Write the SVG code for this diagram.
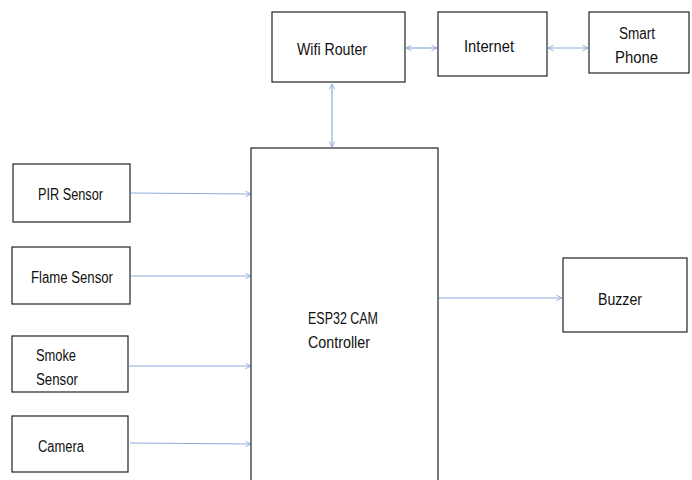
<svg xmlns="http://www.w3.org/2000/svg" width="692" height="480" viewBox="0 0 692 480">
<style>
.box{fill:#fff;stroke:#222;stroke-width:1.2}
.t{font-family:"Liberation Sans",Arial,sans-serif;font-size:16px;fill:#111}
.c{stroke:#8eaadb;stroke-width:1.2;fill:none}
</style>
<defs>
<marker id="ah" viewBox="0 0 10 10" refX="9" refY="5" markerWidth="7" markerHeight="7" orient="auto-start-reverse" markerUnits="userSpaceOnUse">
<path d="M1,1 L9,5 L1,9" fill="none" stroke="#8eaadb" stroke-width="1.3"/>
</marker>
</defs>
<rect width="692" height="480" fill="#fff"/>
<g id="connectors">
<line class="c" x1="406" y1="48" x2="437" y2="48" marker-start="url(#ah)" marker-end="url(#ah)"/>
<line class="c" x1="548" y1="48" x2="588" y2="48" marker-start="url(#ah)" marker-end="url(#ah)"/>
<line class="c" x1="332" y1="84" x2="332" y2="147" marker-start="url(#ah)" marker-end="url(#ah)"/>
<line class="c" x1="131" y1="193" x2="251" y2="194" marker-end="url(#ah)"/>
<line class="c" x1="131" y1="276" x2="251" y2="276" marker-end="url(#ah)"/>
<line class="c" x1="129" y1="366" x2="251" y2="366" marker-end="url(#ah)"/>
<line class="c" x1="130" y1="443" x2="251" y2="444" marker-end="url(#ah)"/>
<line class="c" x1="438" y1="298" x2="562" y2="298" marker-end="url(#ah)"/>
</g>
<g id="wifi"><rect class="box" x="272" y="12" width="133" height="70"/><text class="t" x="297" y="55" textLength="70" lengthAdjust="spacingAndGlyphs">Wifi Router</text></g>
<g id="internet"><rect class="box" x="438" y="12" width="109" height="64"/><text class="t" x="464" y="52" textLength="50" lengthAdjust="spacingAndGlyphs">Internet</text></g>
<g id="phone"><rect class="box" x="589" y="12" width="100" height="61"/><text class="t" x="619" y="39" textLength="36" lengthAdjust="spacingAndGlyphs">Smart</text><text class="t" x="615" y="63" textLength="43" lengthAdjust="spacingAndGlyphs">Phone</text></g>
<g id="esp"><rect class="box" x="251" y="148" width="187" height="340"/><text class="t" x="308" y="324" textLength="70" lengthAdjust="spacingAndGlyphs">ESP32 CAM</text><text class="t" x="308" y="348" textLength="62" lengthAdjust="spacingAndGlyphs">Controller</text></g>
<g id="pir"><rect class="box" x="13" y="164" width="117" height="58"/><text class="t" x="38" y="200" textLength="65" lengthAdjust="spacingAndGlyphs">PIR Sensor</text></g>
<g id="flame"><rect class="box" x="12" y="247" width="118" height="57"/><text class="t" x="31" y="283" textLength="82" lengthAdjust="spacingAndGlyphs">Flame Sensor</text></g>
<g id="smoke"><rect class="box" x="12" y="336" width="116" height="56"/><text class="t" x="36" y="361" textLength="40" lengthAdjust="spacingAndGlyphs">Smoke</text><text class="t" x="36" y="385" textLength="42" lengthAdjust="spacingAndGlyphs">Sensor</text></g>
<g id="camera"><rect class="box" x="12" y="416" width="116" height="56"/><text class="t" x="38" y="452" textLength="46" lengthAdjust="spacingAndGlyphs">Camera</text></g>
<g id="buzzer"><rect class="box" x="563" y="258" width="124" height="74"/><text class="t" x="598" y="305" textLength="44" lengthAdjust="spacingAndGlyphs">Buzzer</text></g>
</svg>
